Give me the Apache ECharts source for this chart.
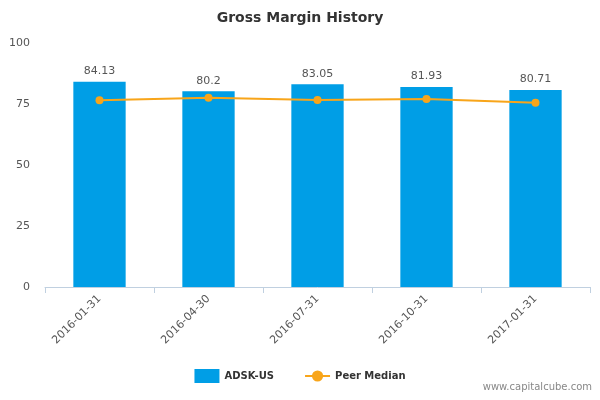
<!DOCTYPE html>
<html><head><meta charset="utf-8">
<script src="https://cdn.jsdelivr.net/npm/echarts@6/dist/echarts.min.js"></script>
<style>html,body{margin:0;padding:0;background:#fff}#c{width:600px;height:400px}</style>
</head><body><div id="c"></div>
<script>
const categories = ['2016-01-31','2016-04-30','2016-07-31','2016-10-31','2017-01-31'];
const companyValues = [84.13, 80.2, 83.05, 81.93, 80.71];
const peerMedian = [76.5, 77.6, 76.6, 77.0, 75.5];
const yTicks = [0, 25, 50, 75, 100];
const chart = echarts.init(document.getElementById('c'));
chart.setOption({
  animation: false,
  title: {text: 'Gross Margin History', left: 'center', top: 6,
    textStyle: {fontFamily: 'DejaVu Sans', fontSize: 14, fontWeight: 'bold', color: '#333'}},
  grid: {left: 45, right: 10, top: 43, bottom: 113},
  legend: {bottom: 12, left: 'center', itemGap: 30,
    textStyle: {fontFamily: 'DejaVu Sans', fontSize: 10, fontWeight: 'bold', color: '#333'},
    data: [{name: 'ADSK-US', icon: 'rect'}, {name: 'Peer Median'}]},
  graphic: [{type: 'text', right: 8, bottom: 8,
    style: {text: 'www.capitalcube.com', fill: '#888', font: '10px DejaVu Sans'}}],
  xAxis: {type: 'category', data: categories,
    axisLine: {lineStyle: {color: '#c0d0e0'}},
    axisTick: {show: true, length: 6, lineStyle: {color: '#c0d0e0'}},
    axisLabel: {rotate: 45, color: '#555', fontFamily: 'DejaVu Sans', fontSize: 11, margin: 10}},
  yAxis: {type: 'value', min: 0, max: 100, interval: 25,
    axisLabel: {color: '#555', fontFamily: 'DejaVu Sans', fontSize: 11, margin: 15},
    splitLine: {show: false}, axisLine: {show: false}, axisTick: {show: false}},
  series: [
    {name: 'ADSK-US', type: 'bar', data: companyValues, barWidth: '48%',
      itemStyle: {color: '#009ee6'},
      label: {show: true, position: 'top', color: '#555', fontFamily: 'DejaVu Sans', fontSize: 11}},
    {name: 'Peer Median', type: 'line', data: peerMedian, symbol: 'circle', symbolSize: 8,
      itemStyle: {color: '#f8a51a'}, lineStyle: {color: '#f8a51a', width: 2}}
  ]
});
</script></body></html>
